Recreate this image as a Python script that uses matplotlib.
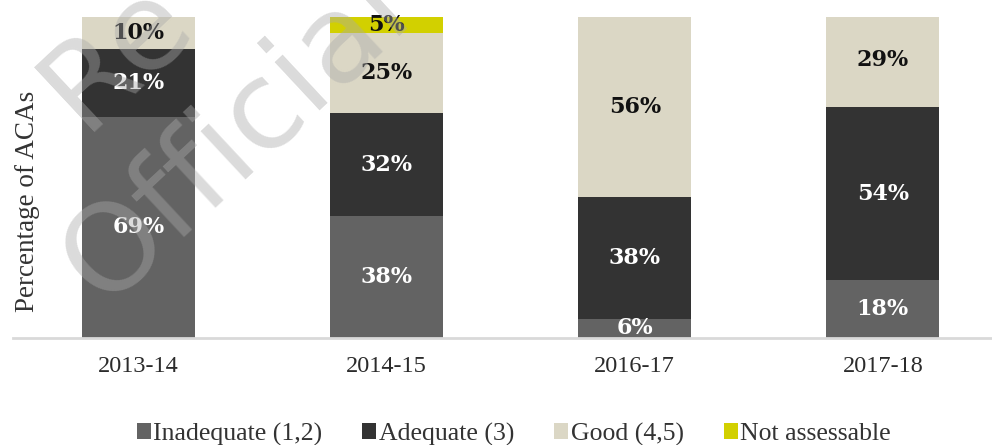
import numpy as np
import matplotlib.pyplot as plt

# ACA ratings by year (percent of ACAs)
years = ['2013-14', '2014-15', '2016-17', '2017-18']
inadequate = [69, 38, 6, 18]
adequate = [21, 32, 38, 54]
good = [10, 25, 56, 29]
not_assessable = [0, 5, 0, 0]

series = [
    ('Inadequate (1,2)', inadequate, '#636363', 'white'),
    ('Adequate (3)', adequate, '#333333', 'white'),
    ('Good (4,5)', good, '#dbd7c5', '#111111'),
    ('Not assessable', not_assessable, '#d2d000', '#111111'),
]

fig = plt.figure(figsize=(9.92, 4.45), dpi=100)
ax = fig.add_axes([13 / 992, 1 - 338 / 445, 979 / 992, 321 / 445])

x = np.arange(len(years))
bottom = np.zeros(len(years))
handles = []
for name, vals, color, txt_color in series:
    vals = np.array(vals, dtype=float)
    bars = ax.bar(x, vals, width=0.455, bottom=bottom, color=color,
                  label=name, zorder=2)
    handles.append(bars)
    for xi, b, v in zip(x, bottom, vals):
        if v > 0:
            ax.text(xi, b + v / 2, f'{int(v)}%', ha='center', va='center',
                    color=txt_color, fontsize=16, fontweight='bold',
                    family='DejaVu Serif', zorder=5)
    bottom += vals

ax.set_xlim(-0.506, 3.44)
ax.set_ylim(0, 100)
ax.set_yticks([])
ax.set_xticks(x)
ax.set_xticklabels(years, family='Liberation Serif', fontsize=17.5, color='#2b2b2b')
ax.tick_params(axis='x', length=0, pad=13)
for side in ['left', 'right', 'top']:
    ax.spines[side].set_visible(False)
ax.spines['bottom'].set_color('#d9d9d9')
ax.spines['bottom'].set_linewidth(2)

fig.text(28 / 992, 1 - 201 / 445, 'Percentage of ACAs', rotation=90,
         ha='center', va='center', family='Liberation Serif', fontsize=19.5,
         color='#333333')

# watermark
wm = dict(family='DejaVu Sans', fontsize=88, color='#aaaaaa', alpha=0.42,
          rotation=43, rotation_mode='anchor', ha='left', va='baseline', zorder=4)
fig.text(103 / 992, 1 - 307 / 445, 'Official', **wm)
fig.text(83 / 992, 1 - 132 / 445, 'Re', **wm)

fig.legend(handles=handles, loc='center', bbox_to_anchor=(0.518, 1 - 434 / 445),
           ncol=4, frameon=False, prop={'family': 'Liberation Serif', 'size': 18.5},
           handlelength=0.55, handleheight=0.55, handletextpad=0.1,
           columnspacing=1.55, labelcolor='#333333', borderaxespad=0)

fig.savefig('out.png', dpi=100)
